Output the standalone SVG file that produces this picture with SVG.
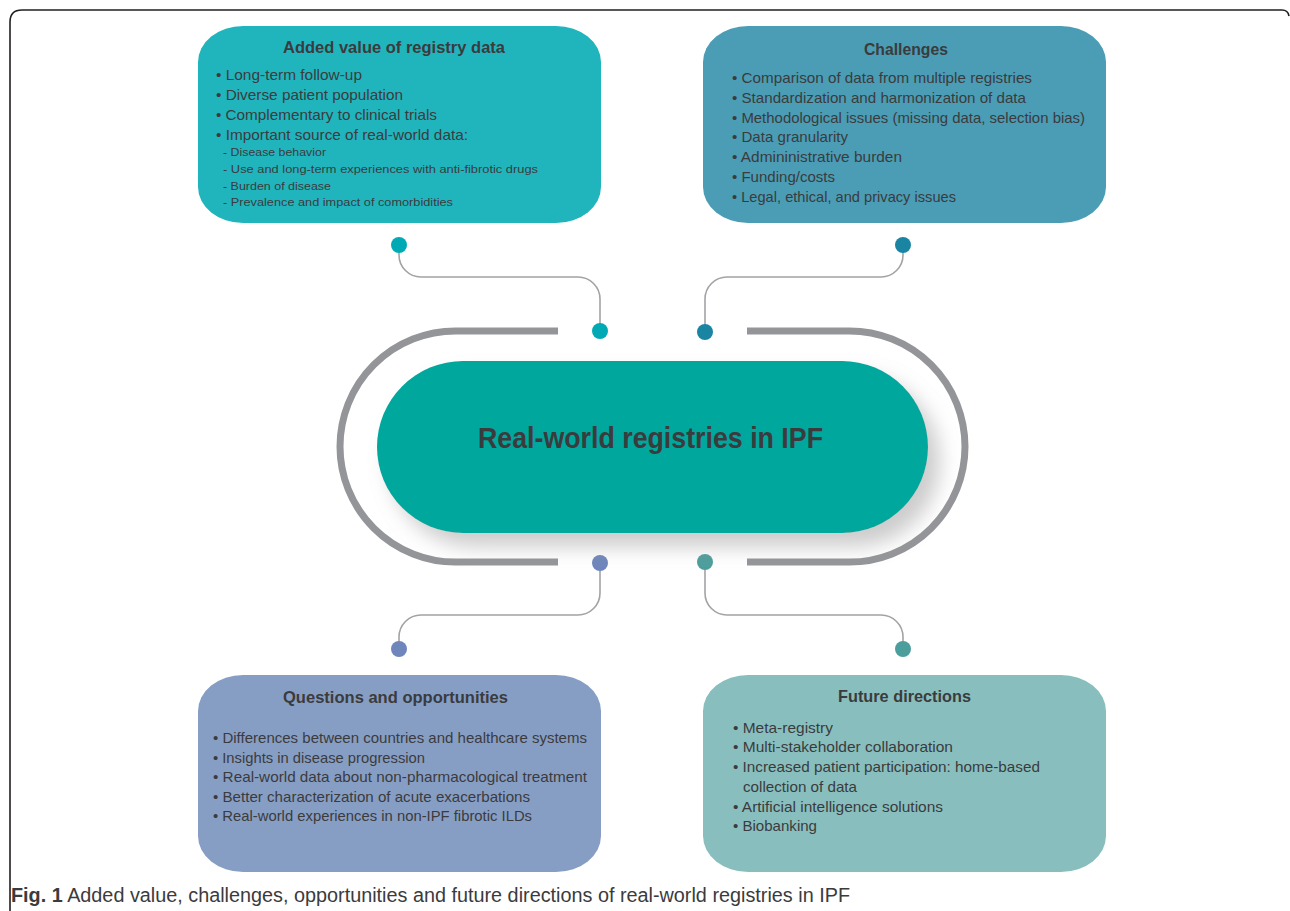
<svg xmlns="http://www.w3.org/2000/svg" width="1290" height="911" viewBox="0 0 1290 911">
<style>
.t{font-family:"Liberation Sans",Arial,sans-serif;fill:#3b3b3d}
.h{font-size:16.5px;font-weight:bold}
.b{font-size:15px}
.s{font-size:11.8px}
.conn{fill:none;stroke:#a3a3a7;stroke-width:1.6}
.ring{fill:none;stroke:#939598;stroke-width:7}
</style>
<defs>
<filter id="sh" x="-20%" y="-30%" width="140%" height="170%">
<feGaussianBlur in="SourceAlpha" stdDeviation="10"/>
<feOffset dx="12" dy="14" result="o"/>
<feFlood flood-color="#9a9a9a" flood-opacity="0.5"/>
<feComposite in2="o" operator="in"/>
<feMerge><feMergeNode/><feMergeNode in="SourceGraphic"/></feMerge>
</filter>
</defs>
<rect width="1290" height="911" fill="#ffffff"/>
<path d="M10,911 V22 Q10,10 22,10 H1282 Q1288,10 1289,16" fill="none" stroke="#231f20" stroke-width="1.6"/>

<g id="connectors">
<path class="ring" d="M558,331 H455.5 A115.5,115.5 0 0 0 455.5,562 H558"/>
<path class="ring" d="M747,331 H849.5 A115.5,115.5 0 0 1 849.5,562 H747"/>
<path class="conn" d="M399,245 V255 A22,22 0 0 0 421,277 H578 A22,22 0 0 1 600,299 V331"/>
<path class="conn" d="M903,245 V255 A22,22 0 0 1 881,277 H727 A22,22 0 0 0 705,299 V332"/>
<path class="conn" d="M600,563 V593 A22,22 0 0 1 578,615 H421 A22,22 0 0 0 399,637 V649"/>
<path class="conn" d="M705,562 V593 A22,22 0 0 0 727,615 H881 A22,22 0 0 1 903,637 V649"/>
<circle cx="399" cy="245" r="8" fill="#00aab4"/>
<circle cx="600" cy="331" r="8" fill="#00aab4"/>
<circle cx="903" cy="245" r="8" fill="#1a84a3"/>
<circle cx="705" cy="332" r="8" fill="#1a84a3"/>
<circle cx="600" cy="563" r="8" fill="#6f86bc"/>
<circle cx="399" cy="649" r="8" fill="#6f86bc"/>
<circle cx="705" cy="562" r="8" fill="#4c9e9c"/>
<circle cx="903" cy="649" r="8" fill="#4c9e9c"/>
</g>

<g id="center">
<rect x="377" y="361" width="551" height="172" rx="86" ry="86" fill="#00a79d" filter="url(#sh)"/>
<text class="t" x="650.5" y="448" text-anchor="middle" font-size="29.5" font-weight="bold" textLength="345" lengthAdjust="spacingAndGlyphs">Real-world registries in IPF</text>
</g>

<g id="added-value">
<rect x="198" y="26" width="403" height="197" rx="45" ry="36" fill="#20b5bd"/>
<text class="t h" x="283" y="53" textLength="222" lengthAdjust="spacingAndGlyphs">Added value of registry data</text>
<text class="t b" x="216" y="80" textLength="146" lengthAdjust="spacingAndGlyphs">• Long-term follow-up</text>
<text class="t b" x="216" y="100" textLength="187" lengthAdjust="spacingAndGlyphs">• Diverse patient population</text>
<text class="t b" x="216" y="120" textLength="221" lengthAdjust="spacingAndGlyphs">• Complementary to clinical trials</text>
<text class="t b" x="216" y="140" textLength="252" lengthAdjust="spacingAndGlyphs">• Important source of real-world data:</text>
<text class="t s" x="223" y="156" textLength="103" lengthAdjust="spacingAndGlyphs">- Disease behavior</text>
<text class="t s" x="223" y="173" textLength="315" lengthAdjust="spacingAndGlyphs">- Use and long-term experiences with anti-fibrotic drugs</text>
<text class="t s" x="223" y="190" textLength="108" lengthAdjust="spacingAndGlyphs">- Burden of disease</text>
<text class="t s" x="223" y="206" textLength="230" lengthAdjust="spacingAndGlyphs">- Prevalence and impact of comorbidities</text>
</g>

<g id="challenges">
<rect x="703" y="26" width="403" height="197" rx="45" ry="36" fill="#4a9db5"/>
<text class="t h" x="864" y="55" textLength="84" lengthAdjust="spacingAndGlyphs">Challenges</text>
<text class="t b" x="732" y="83" textLength="300" lengthAdjust="spacingAndGlyphs">• Comparison of data from multiple registries</text>
<text class="t b" x="732" y="103" textLength="294" lengthAdjust="spacingAndGlyphs">• Standardization and harmonization of data</text>
<text class="t b" x="732" y="123" textLength="353" lengthAdjust="spacingAndGlyphs">• Methodological issues (missing data, selection bias)</text>
<text class="t b" x="732" y="142" textLength="116" lengthAdjust="spacingAndGlyphs">• Data granularity</text>
<text class="t b" x="732" y="162" textLength="170" lengthAdjust="spacingAndGlyphs">• Admininistrative burden</text>
<text class="t b" x="732" y="182" textLength="103" lengthAdjust="spacingAndGlyphs">• Funding/costs</text>
<text class="t b" x="732" y="202" textLength="224" lengthAdjust="spacingAndGlyphs">• Legal, ethical, and privacy issues</text>
</g>

<g id="questions">
<rect x="198" y="675" width="403" height="197" rx="45" ry="36" fill="#879ec4"/>
<text class="t h" x="283" y="703" textLength="225" lengthAdjust="spacingAndGlyphs">Questions and opportunities</text>
<text class="t b" x="213" y="743" textLength="374" lengthAdjust="spacingAndGlyphs">• Differences between countries and healthcare systems</text>
<text class="t b" x="213" y="763" textLength="212" lengthAdjust="spacingAndGlyphs">• Insights in disease progression</text>
<text class="t b" x="213" y="782" textLength="374" lengthAdjust="spacingAndGlyphs">• Real-world data about non-pharmacological treatment</text>
<text class="t b" x="213" y="802" textLength="317" lengthAdjust="spacingAndGlyphs">• Better characterization of acute exacerbations</text>
<text class="t b" x="213" y="821" textLength="319" lengthAdjust="spacingAndGlyphs">• Real-world experiences in non-IPF fibrotic ILDs</text>
</g>

<g id="future">
<rect x="703" y="675" width="403" height="197" rx="45" ry="36" fill="#88bfbe"/>
<text class="t h" x="838" y="702" textLength="133" lengthAdjust="spacingAndGlyphs">Future directions</text>
<text class="t b" x="733" y="733" textLength="100" lengthAdjust="spacingAndGlyphs">• Meta-registry</text>
<text class="t b" x="733" y="752" textLength="220" lengthAdjust="spacingAndGlyphs">• Multi-stakeholder collaboration</text>
<text class="t b" x="733" y="772" textLength="307" lengthAdjust="spacingAndGlyphs">• Increased patient participation: home-based</text>
<text class="t b" x="743" y="792" textLength="114" lengthAdjust="spacingAndGlyphs">collection of data</text>
<text class="t b" x="733" y="812" textLength="210" lengthAdjust="spacingAndGlyphs">• Artificial intelligence solutions</text>
<text class="t b" x="733" y="831" textLength="84" lengthAdjust="spacingAndGlyphs">• Biobanking</text>
</g>

<text class="t" x="11" y="902" font-size="19.5" fill="#231f20" textLength="839" lengthAdjust="spacingAndGlyphs"><tspan font-weight="bold">Fig. 1</tspan> Added value, challenges, opportunities and future directions of real-world registries in IPF</text>
</svg>
